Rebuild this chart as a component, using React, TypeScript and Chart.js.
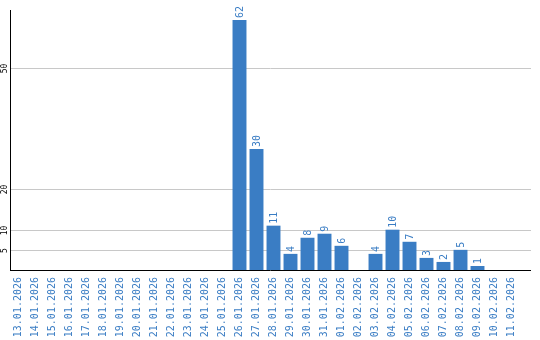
import React, { useEffect, useRef } from "react";
import { Chart, registerables } from "chart.js";

Chart.register(...registerables);

const categories = [
  "13.01.2026", "14.01.2026", "15.01.2026", "16.01.2026", "17.01.2026",
  "18.01.2026", "19.01.2026", "20.01.2026", "21.01.2026", "22.01.2026",
  "23.01.2026", "24.01.2026", "25.01.2026", "26.01.2026", "27.01.2026",
  "28.01.2026", "29.01.2026", "30.01.2026", "31.01.2026", "01.02.2026",
  "02.02.2026", "03.02.2026", "04.02.2026", "05.02.2026", "06.02.2026",
  "07.02.2026", "08.02.2026", "09.02.2026", "10.02.2026", "11.02.2026",
];

const values: (number | null)[] = [
  null, null, null, null, null, null, null, null, null, null, null, null, null,
  62, 30, 11, 4, 8, 9, 6, null, 4, 10, 7, 3, 2, 5, 1, null, null,
];

const yTickValues = [5, 10, 20, 50];
const yMax = 64.5;

const BLUE = "#3a7dc4";
const GRID_RIGHT = 531;

const overlay = {
  id: "overlay",
  beforeDatasetsDraw(chart: any) {
    const { ctx, chartArea, scales } = chart;
    const y = scales.y;
    ctx.save();
    ctx.strokeStyle = "#c8c8c8";
    ctx.lineWidth = 1;
    ctx.fillStyle = "#000";
    ctx.font = "8px 'DejaVu Sans Mono', monospace";
    for (const v of yTickValues) {
      const py = Math.round(y.getPixelForValue(v)) + 0.5;
      ctx.beginPath();
      ctx.moveTo(chartArea.left, py);
      ctx.lineTo(GRID_RIGHT, py);
      ctx.stroke();
      ctx.save();
      ctx.translate(4.5, py);
      ctx.rotate(-Math.PI / 2);
      ctx.textAlign = "center";
      ctx.textBaseline = "middle";
      ctx.fillText(String(v), 0, 0);
      ctx.restore();
    }
    ctx.restore();
  },
  afterDatasetsDraw(chart: any) {
    const { ctx, chartArea } = chart;
    const meta = chart.getDatasetMeta(0);
    ctx.save();
    ctx.fillStyle = BLUE;
    ctx.font = "10px 'DejaVu Sans Mono', monospace";
    meta.data.forEach((el: any, i: number) => {
      const v = values[i];
      if (v == null) return;
      ctx.save();
      ctx.translate(el.x + 0.5, el.y - 2);
      ctx.rotate(-Math.PI / 2);
      ctx.textAlign = "left";
      ctx.textBaseline = "middle";
      ctx.fillText(String(v), 0, 0);
      ctx.restore();
    });
    ctx.strokeStyle = "#000";
    ctx.lineWidth = 1;
    ctx.beginPath();
    ctx.moveTo(chartArea.left + 0.5, chartArea.top);
    ctx.lineTo(chartArea.left + 0.5, chartArea.bottom + 1);
    ctx.moveTo(chartArea.left, chartArea.bottom + 0.5);
    ctx.lineTo(GRID_RIGHT, chartArea.bottom + 0.5);
    ctx.stroke();
    ctx.restore();
  },
};

export default function App() {
  const ref = useRef<HTMLCanvasElement>(null);
  useEffect(() => {
    if (!ref.current) return;
    const chart = new Chart(ref.current, {
      type: "bar",
      data: {
        labels: categories,
        datasets: [
          {
            data: values,
            backgroundColor: BLUE,
            borderWidth: 0,
            barPercentage: 0.82,
            categoryPercentage: 1,
          },
        ],
      },
      options: {
        animation: false,
        responsive: false,
        maintainAspectRatio: false,
        layout: { padding: { left: 10, right: 20, top: 10, bottom: 0 } },
        plugins: { legend: { display: false }, tooltip: { enabled: false } },
        scales: {
          x: {
            grid: { display: false, drawTicks: false },
            border: { display: false },
            ticks: {
              autoSkip: false,
              minRotation: 90,
              maxRotation: 90,
              padding: 7,
              color: BLUE,
              font: { family: "'DejaVu Sans Mono', monospace", size: 10 },
            },
            afterFit: (s: any) => {
              s.height = 70;
            },
          },
          y: {
            display: false,
            min: 0,
            max: yMax,
          },
        },
      },
      plugins: [overlay],
    });
    return () => chart.destroy();
  }, []);
  return (
    <div style={{ position: "absolute", left: 0, top: 0, width: 540, height: 340, background: "#fff" }}>
      <canvas ref={ref} width={540} height={340} style={{ display: "block" }} />
    </div>
  );
}
